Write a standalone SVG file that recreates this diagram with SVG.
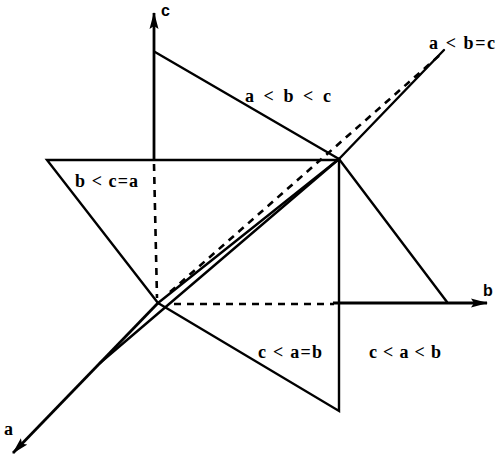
<svg xmlns="http://www.w3.org/2000/svg" width="496" height="458" viewBox="0 0 496 458">
<defs>
<marker id="arr" markerUnits="userSpaceOnUse" markerWidth="18" markerHeight="10" refX="16" refY="5" orient="auto">
<path d="M0,0.5 L17,5 L0,9.5 L3,5 z" fill="#000"/>
</marker>
<style>
.ln{stroke:#000;stroke-width:2.4;fill:none;stroke-linecap:round}
.ax{stroke:#000;stroke-width:2.8;fill:none}
.ds{stroke:#000;stroke-width:2.6;fill:none;stroke-dasharray:7,6}
.lb{font-family:"Liberation Serif","Times New Roman",serif;font-size:18px;font-weight:bold;fill:#000}
.al{font-family:"Liberation Sans",Arial,sans-serif;font-size:16px;font-weight:bold;fill:#000}
</style>
</defs>
<rect width="496" height="458" fill="#fff"/>
<g id="connectors">
<line class="ax" x1="154" y1="160" x2="154" y2="13" marker-end="url(#arr)"/>
<line class="ds" x1="154" y1="164" x2="157" y2="298"/>
<line class="ds" x1="174" y1="304" x2="334" y2="304"/>
<line class="ax" x1="333" y1="303" x2="487" y2="303" marker-end="url(#arr)"/>
<line class="ax" x1="158" y1="303" x2="13" y2="453" marker-end="url(#arr)"/>
<line class="ds" x1="170" y1="292" x2="441" y2="54"/>
<line class="ln" x1="158" y1="303" x2="339" y2="159"/>
<line class="ln" x1="100" y1="363" x2="339" y2="159"/>
<line class="ln" x1="339" y1="159" x2="444" y2="50"/>
</g>
<g id="triangle-bca">
<polyline class="ln" points="339,160 47,160 158,303"/>
</g>
<g id="triangle-abc">
<line class="ln" x1="155" y1="52" x2="339" y2="159"/>
</g>
<g id="triangle-cab">
<polyline class="ln" points="339,159 339,411 158,303"/>
</g>
<g id="triangle-acb">
<line class="ln" x1="339" y1="159" x2="447" y2="302"/>
</g>
<g id="labels">
<text class="al" x="161" y="16">c</text>
<text class="al" x="483" y="296">b</text>
<text class="lb" x="4" y="435">a</text>
<text class="lb" x="429" y="49" textLength="66" lengthAdjust="spacing">a &lt; b=c</text>
<text class="lb" x="245" y="102" textLength="86" lengthAdjust="spacing">a &lt; b &lt; c</text>
<text class="lb" x="75" y="187" textLength="63" lengthAdjust="spacing">b &lt; c=a</text>
<text class="lb" x="258" y="358" textLength="64" lengthAdjust="spacing">c &lt; a=b</text>
<text class="lb" x="369" y="358" textLength="72" lengthAdjust="spacing">c &lt; a &lt; b</text>
</g>
</svg>
